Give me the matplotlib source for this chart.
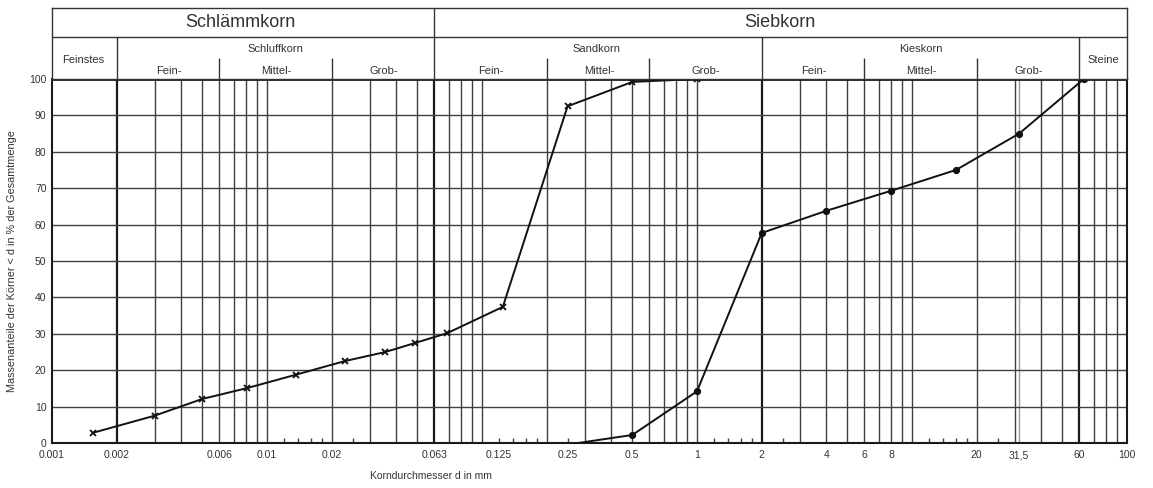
import matplotlib
matplotlib.use("Agg")
import matplotlib.pyplot as plt
from matplotlib.transforms import offset_copy

plt.rcParams['font.family'] = ['Liberation Sans', 'DejaVu Sans']

# Kornverteilung 1 (Schlämm- + Siebanalyse, Kreuze)
fine_d = [0.00155, 0.003, 0.005, 0.0081, 0.0137, 0.023, 0.0355, 0.049, 0.069, 0.125, 0.25, 0.5, 1.0]
fine_p = [2.8, 7.5, 12.1, 15.1, 18.8, 22.5, 25.0, 27.5, 30.2, 37.4, 92.5, 99.2, 100.0]

# Kornverteilung 2 (Siebanalyse, Punkte) - erster Punkt ohne Marker
coarse_d = [0.28, 0.5, 1.0, 2.0, 4.0, 8.0, 16.0, 31.5, 63.0]
coarse_p = [0.0, 2.2, 14.2, 57.7, 63.8, 69.3, 75.0, 85.0, 100.0]

xtick_pos = [0.001, 0.002, 0.006, 0.01, 0.02, 0.06, 0.12, 0.25, 0.5, 1, 2, 4, 6, 8, 20, 31.5, 60, 100]
xtick_lab = ["0.001", "0.002", "0.006", "0.01", "0.02", "0.063", "0.125", "0.25", "0.5", "1", "2",
             "4", "6", "8", "20", "31,5", "60", "100"]
ytick_pos = list(range(0, 101, 10))

W, H = 1153, 488
fig = plt.figure(figsize=(W / 100, H / 100), dpi=100)
x0, x1 = 52, 1127
ax = fig.add_axes([x0 / W, (H - 443) / H, (x1 - x0) / W, (443 - 79) / H])
hx = fig.add_axes([x0 / W, (H - 79) / H, (x1 - x0) / W, (79 - 8) / H])

gc = '#404040'
for a in (ax, hx):
    a.set_xscale('log')
    a.set_xlim(0.001, 100)

# grid lines
thick = [0.002, 0.06, 2, 60]
lines = [k * 10.0 ** e for e in range(-3, 2) for k in range(2, 11)]
lines = [v for v in lines if v < 99]
lines = [v for v in lines if not any(abs(v - t) / t < 0.01 for t in thick)]
ax.vlines(lines, 0, 100, color=gc, lw=1.0, zorder=1)
ax.vlines([31.5], 0, 100, color='#999999', lw=1.0, zorder=1)
ax.vlines(thick, 0, 100, color='#1a1a1a', lw=1.6, zorder=1)
ax.hlines(ytick_pos[1:-1], 0.001, 100, color=gc, lw=1.0, zorder=1)
ax.hlines([100], 0.001, 100, color='#1a1a1a', lw=2.0, zorder=1)

# short ticks at bottom
small = [k * 10.0 ** e for e in range(-2, 2) for k in (1.2, 1.4, 1.6, 1.8, 2.5)]
ax.vlines(small, 0, 1.3, color=gc, lw=1.0, zorder=1)

for s in ax.spines.values():
    s.set_linewidth(1.5)
    s.set_color('#1a1a1a')
ax.spines['top'].set_visible(False)

ax.set_ylim(0, 100)
ax.set_xticks([])
ax.minorticks_off()
ax.set_yticks(ytick_pos)
ax.tick_params(axis='both', length=0, labelsize=7.5, labelcolor='#333333')
ax.tick_params(axis='y', pad=4)

# x labels on a common baseline
lab_tr = offset_copy(ax.get_xaxis_transform(), fig=fig, x=0, y=-15, units='dots')
for xp, lab in zip(xtick_pos, xtick_lab):
    ax.text(xp, 0, lab, transform=lab_tr, ha='center', va='baseline',
            fontsize=7.5, color='#333333')

ax.plot(fine_d, fine_p, color='#111111', lw=1.4, marker='x', ms=5, mew=1.3, zorder=3)
ax.plot(coarse_d, coarse_p, color='#111111', lw=1.4, marker='o', ms=4.2,
        markevery=list(range(1, len(coarse_d))), zorder=3)

fig.text(12 / W, (H - 261) / H, "Massenanteile der Körner < d in % der Gesamtmenge",
         rotation=90, ha='center', va='center', fontsize=7.8, color='#333333')
fig.text(431 / W, (H - 476) / H, "Korndurchmesser d in mm", ha='center', va='center',
         fontsize=7.5, color='#333333')

# header (Bodenarten)
hx.set_ylim(0, 1)
hx.set_xticks([])
hx.set_yticks([])
hx.minorticks_off()
for s in hx.spines.values():
    s.set_linewidth(1.0)
    s.set_color('#333333')
mid = (79 - 37) / 71
hx.hlines([mid], 0.001, 100, color='#333333', lw=1.0)
hx.vlines([0.06], 0, 1, color='#333333', lw=1.0)
hx.vlines([0.002, 2, 60], 0, mid, color='#333333', lw=1.0)
hx.vlines([0.006, 0.02, 0.2, 0.6, 6, 20], 0, (79 - 58) / 71, color='#333333', lw=1.0)

tc = '#333333'
hx.text(0.0075, 0.8, "Schlämmkorn", ha='center', va='center', fontsize=13, color=tc)
hx.text(2.43, 0.8, "Siebkorn", ha='center', va='center', fontsize=13, color=tc)
hy1, hy2, hy3 = (79 - 49) / 71, (79 - 71) / 71, (79 - 60) / 71
fs = 8
hx.text(0.0014, hy3, "Feinstes", ha='center', va='center', fontsize=fs, color=tc)
hx.text(78, hy3, "Steine", ha='center', va='center', fontsize=fs, color=tc)
for name, xc in [("Schluffkorn", 0.011), ("Sandkorn", 0.34), ("Kieskorn", 11)]:
    hx.text(xc, hy1, name, ha='center', va='center', fontsize=fs, color=tc)
for xs in [(0.0035, 0.011, 0.035), (0.11, 0.35, 1.1), (3.5, 11, 35)]:
    for lab, xc in zip(["Fein-", "Mittel-", "Grob-"], xs):
        hx.text(xc, hy2, lab, ha='center', va='center', fontsize=fs, color=tc)

fig.savefig("out.png", dpi=100)
